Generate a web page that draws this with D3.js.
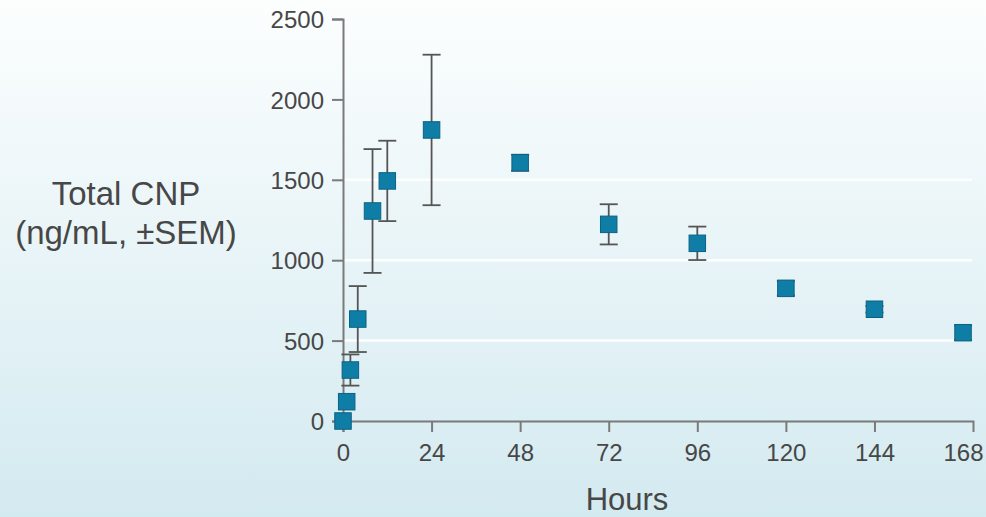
<!DOCTYPE html>
<html>
<head>
<meta charset="utf-8">
<script src="https://cdn.jsdelivr.net/npm/d3@7/dist/d3.min.js"></script>
<style>
  html, body { margin: 0; padding: 0; overflow: hidden; }
  svg { display: block; }
  text { font-family: "Liberation Sans", Arial, sans-serif; fill: #474747; }
</style>
</head>
<body>
<svg id="chart" width="986" height="517"></svg>
<script>
// ---- data ----
const hours  = [0, 1, 2, 4, 8, 12, 24, 48, 72, 96, 120, 144, 168];
const values = [0, 120, 317, 634, 1306, 1493, 1810, 1606, 1223, 1105, 825, 695, 549];
const sem    = [0, 0, 97, 205, 385, 250, 468, 50, 125, 104, 45, 20, 45];
const xTickValues = [0, 24, 48, 72, 96, 120, 144, 168];
const yTickValues = [0, 500, 1000, 1500, 2000, 2500];
const gridValues = [500, 1000, 1500];
const yTitle = ["Total CNP", "(ng/mL, \u00B1SEM)"];
const xTitle = "Hours";

const W = 986, H = 517;
const svg = d3.select("#chart");

// background gradient
const defs = svg.append("defs");
const grad = defs.append("linearGradient").attr("id", "bg")
  .attr("x1", 0).attr("y1", 0).attr("x2", 0).attr("y2", 1);
grad.append("stop").attr("offset", "0%").attr("stop-color", "#fcfefe");
grad.append("stop").attr("offset", "45%").attr("stop-color", "#eaf5f8");
grad.append("stop").attr("offset", "100%").attr("stop-color", "#d3eaf0");
svg.append("rect").attr("width", W).attr("height", H).attr("fill", "url(#bg)");

// scales
const x = d3.scaleLinear().domain([0, 170.7]).range([343, 973]);
const y = d3.scaleLinear().domain([0, 2500]).range([421, 19]);

// gridlines
svg.append("g").selectAll("line").data(gridValues).join("line")
  .attr("x1", x(0)).attr("x2", 972)
  .attr("y1", d => y(d)).attr("y2", d => y(d))
  .attr("stroke", "#ffffff").attr("stroke-width", 2.5).attr("opacity", 0.95);

// y axis
const yAxis = svg.append("g").attr("transform", `translate(${x(0)},0)`)
  .call(d3.axisLeft(y).tickValues(yTickValues).tickSize(11).tickSizeOuter(11).tickPadding(8)
    .tickFormat(d3.format("d")));
yAxis.selectAll("path, line").attr("stroke", "#7a7a7a").attr("stroke-width", 2);
yAxis.selectAll("text").style("font-size", "24px").style("font-family", "'Liberation Sans', Arial, sans-serif")
  .attr("fill", "#474747").attr("dy", "0.36em");

// x axis
const xAxis = svg.append("g").attr("transform", `translate(0,${y(0)})`)
  .call(d3.axisBottom(x).tickValues(xTickValues).tickSize(11).tickSizeOuter(11).tickPadding(12)
    .tickFormat(d3.format("d")));
xAxis.selectAll("path, line").attr("stroke", "#7a7a7a").attr("stroke-width", 2);
xAxis.selectAll(".tick").filter(d => d === 168).select("line").remove();
xAxis.selectAll("text").style("font-size", "24px").style("font-family", "'Liberation Sans', Arial, sans-serif")
  .attr("fill", "#474747");

// error bars
const pts = hours.map((h, i) => ({ h, v: values[i], e: sem[i] }));
const eb = svg.append("g").attr("stroke", "#555555").attr("stroke-width", 1.8);
pts.filter(d => d.e > 0).forEach(d => {
  const cx = x(d.h);
  eb.append("line").attr("x1", cx).attr("x2", cx).attr("y1", y(d.v - d.e)).attr("y2", y(d.v + d.e));
  [d.v - d.e, d.v + d.e].forEach(val => {
    eb.append("line").attr("x1", cx - 9).attr("x2", cx + 9).attr("y1", y(val)).attr("y2", y(val));
  });
});

// markers
const ms = 16.5;
svg.append("g").selectAll("rect").data(pts).join("rect")
  .attr("x", d => x(d.h) - ms / 2).attr("y", d => y(d.v) - ms / 2)
  .attr("width", ms).attr("height", ms)
  .attr("fill", "#0f7ea6").attr("stroke", "#0b6283").attr("stroke-width", 1);

// titles
const yt = svg.append("text").attr("text-anchor", "middle")
  .style("font-size", "33px");
yt.append("tspan").attr("x", 126).attr("y", 205).text(yTitle[0]);
yt.append("tspan").attr("x", 126).attr("y", 244).text(yTitle[1]);

svg.append("text").attr("x", 627).attr("y", 510).attr("text-anchor", "middle")
  .style("font-size", "31px").text(xTitle);
</script>
</body>
</html>
